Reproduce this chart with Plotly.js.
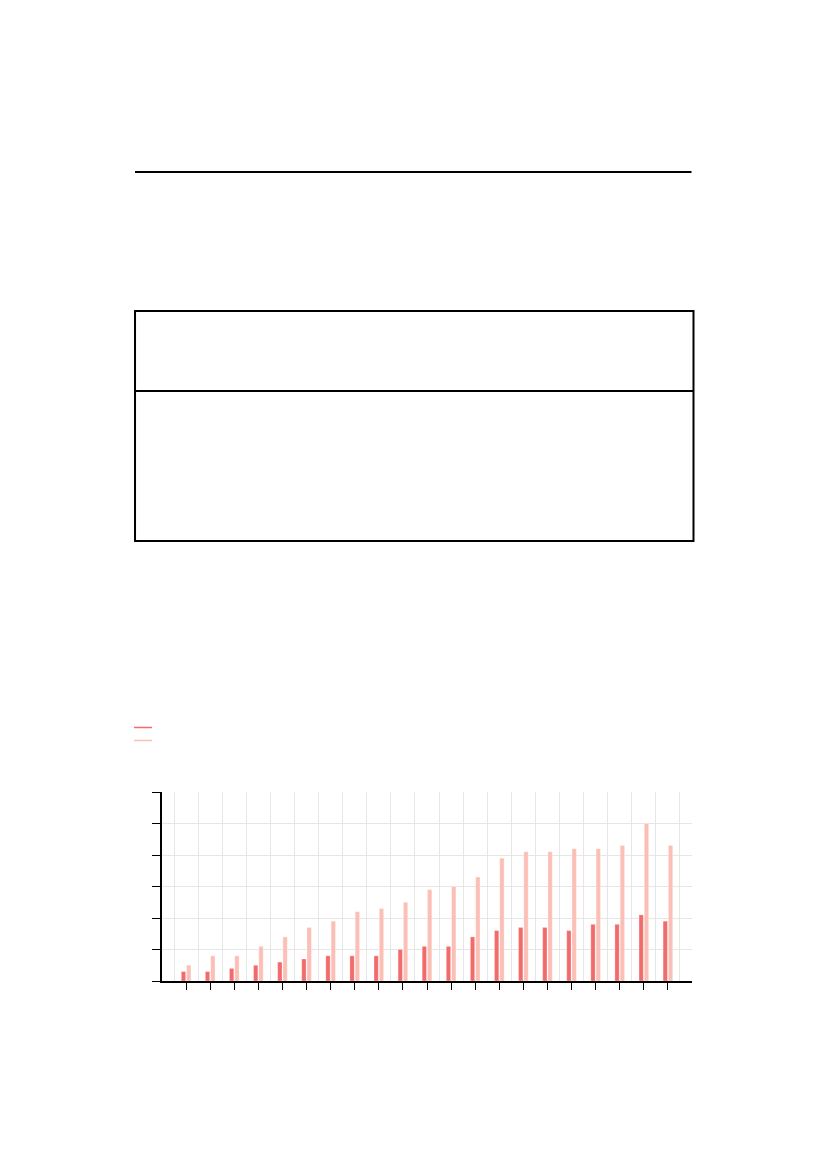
<!DOCTYPE html>
<html>
<head>
<meta charset="utf-8">
<script src="https://cdn.plot.ly/plotly-3.0.1.min.js"></script>
<style>
  body { margin: 0; background: #fff; }
  #chart { width: 827px; height: 1169px; }
</style>
</head>
<body>
<div id="chart"></div>
<script>
// categories 1..21, values (axis 0-60, step 10)
var categories = [1, 2, 3, 4, 5, 6, 7, 8, 9, 10, 11, 12, 13, 14, 15, 16, 17, 18, 19, 20, 21];
var seriesA = [3, 3, 4, 5, 6, 7, 8, 8, 8, 10, 11, 11, 14, 16, 17, 17, 16, 18, 18, 21, 19];
var seriesB = [5, 8, 8, 11, 14, 17, 19, 22, 23, 25, 29, 30, 33, 39, 41, 41, 42, 42, 43, 50, 43];
var yTicks = [0, 10, 20, 30, 40, 50, 60];

var darkRed = "#f26b6b";
var lightRed = "#fbbfb6";

// plot area spans x 162..692.5, y 792..981 in page pixels
function px(x) { return (x - 162) / 530.5; }
function py(y) { return (981 - y) / 189; }

function drawChart() {
  var a = {
    x: categories,
    y: seriesA,
    type: "bar",
    name: "",
    marker: { color: darkRed, line: { color: "rgba(255,255,255,0.5)", width: 0.6 } },
    showlegend: false
  };
  var b = {
    x: categories,
    y: seriesB,
    type: "bar",
    name: "",
    marker: { color: lightRed, line: { color: "rgba(255,255,255,0.5)", width: 0.6 } },
    showlegend: false
  };
  var data = [a, b];

  var line = { color: "#000", width: 2 };
  var shapes = [
    // rule near the top of the page
    { type: "line", xref: "paper", yref: "paper", x0: px(135), x1: px(692), y0: py(172), y1: py(172), line: line },
    // box with a divider
    { type: "rect", xref: "paper", yref: "paper", x0: px(135), x1: px(694), y0: py(311), y1: py(541), line: line },
    { type: "line", xref: "paper", yref: "paper", x0: px(135), x1: px(694), y0: py(391), y1: py(391), line: line },
    // legend keys
    { type: "line", xref: "paper", yref: "paper", x0: px(134), x1: px(152), y0: py(727.5), y1: py(727.5), line: { color: darkRed, width: 1.5 } },
    { type: "line", xref: "paper", yref: "paper", x0: px(134), x1: px(152), y0: py(740.5), y1: py(740.5), line: { color: lightRed, width: 1.5 } }
  ];

  var layout = {
    width: 827,
    height: 1169,
    margin: { l: 162, r: 134.5, t: 792, b: 188, pad: 0 },
    paper_bgcolor: "#fff",
    plot_bgcolor: "#fff",
    barmode: "group",
    bargap: 0.56,
    bargroupgap: 0.18,
    showlegend: false,
    xaxis: {
      range: [0, 22],
      tickvals: categories,
      showticklabels: false,
      ticks: "outside",
      ticklen: 7,
      tickwidth: 1,
      tickcolor: "#000",
      showgrid: false,
      minor: { tick0: 0.5, dtick: 1, showgrid: true, gridcolor: "#e6e6e6", gridwidth: 1, ticks: "" },
      showline: true,
      linecolor: "#000",
      linewidth: 2,
      zeroline: false,
      fixedrange: true
    },
    yaxis: {
      range: [0, 60],
      tickvals: yTicks,
      showticklabels: false,
      ticks: "outside",
      ticklen: 8,
      tickwidth: 1,
      tickcolor: "#000",
      showgrid: true,
      gridcolor: "#e6e6e6",
      gridwidth: 1,
      showline: true,
      linecolor: "#000",
      linewidth: 2,
      zeroline: false,
      fixedrange: true
    },
    shapes: shapes
  };
  Plotly.newPlot("chart", data, layout, { displayModeBar: false, staticPlot: true });
}
drawChart();
</script>
</body>
</html>
